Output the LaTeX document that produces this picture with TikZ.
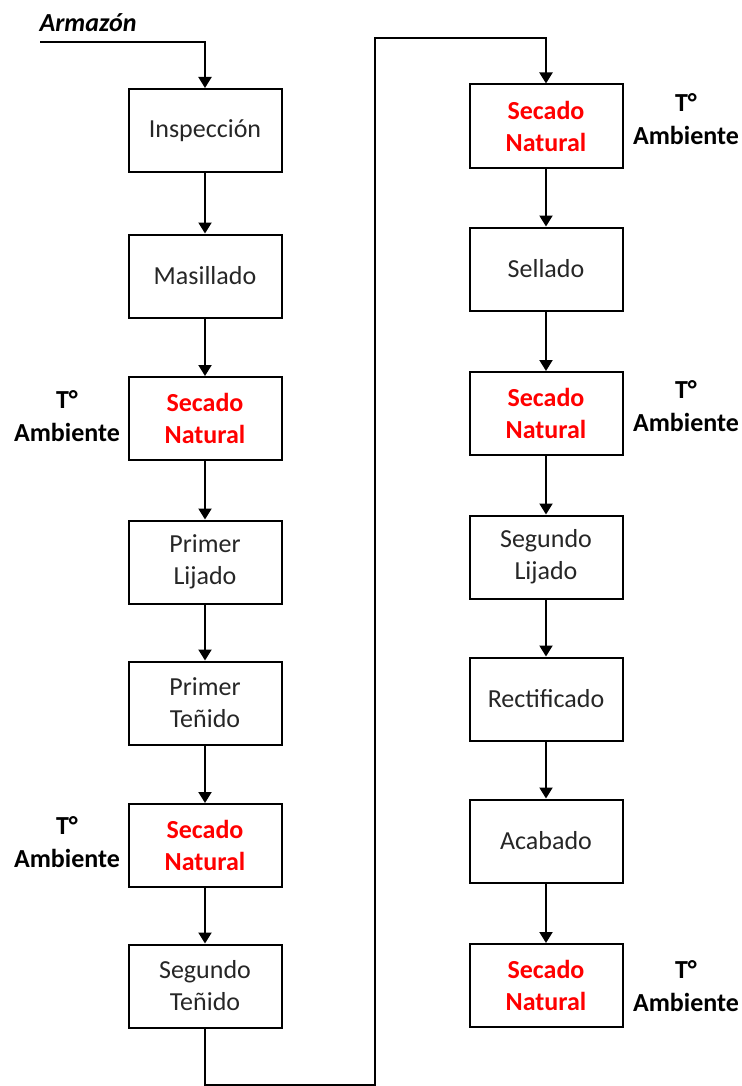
\documentclass[tikz,border=0pt]{standalone}
\usepackage{fontspec}
\setmainfont{Carlito}
\usetikzlibrary{arrows.meta,positioning}

\tikzset{
  proc/.style={draw,line width=1pt,minimum width=76.5pt,minimum height=41.5pt,align=center,
    text=black!85,font=\fontsize{13}{16}\selectfont},
  secado/.style={proc,text=red,font=\fontsize{13}{16}\selectfont\bfseries},
  temp/.style={align=center,font=\fontsize{13}{16.5}\selectfont\bfseries},
  flow/.style={line width=1pt,-{Triangle[width=6.5pt,length=5.5pt]}},
}

\begin{document}
\begin{tikzpicture}[x=0.5pt,y=-0.5pt]
  \useasboundingbox (0,0) rectangle (742,1086);

  % Left column
  \node[proc]   (insp) at (205,130.5) {Inspección};
  \node[proc]   (mas)  at (205,276)   {Masillado};
  \node[secado] (sa)   at (205,418.5) {Secado\\Natural};
  \node[proc]   (pl)   at (205,562)   {Primer\\Lijado};
  \node[proc]   (pt)   at (205,703)   {Primer\\Teñido};
  \node[secado] (sb)   at (205,845.5) {Secado\\Natural};
  \node[proc]   (st)   at (205,986)   {Segundo\\Teñido};

  % Right column
  \node[secado] (sc)   at (546,126)   {Secado\\Natural};
  \node[proc]   (sel)  at (546,269)   {Sellado};
  \node[secado] (sd)   at (546,413.5) {Secado\\Natural};
  \node[proc]   (sl)   at (546,557)   {Segundo\\Lijado};
  \node[proc]   (rec)  at (546,699)   {Rectificado};
  \node[proc]   (aca)  at (546,841)   {Acabado};
  \node[secado] (se)   at (546,985.5) {Secado\\Natural};

  % Temperature notes
  \node[temp] (ta) at (67,416)  {T°\\Ambiente};
  \node[temp] (tb) at (67,842)  {T°\\Ambiente};
  \node[temp] (tc) at (686,119) {T°\\Ambiente};
  \node[temp] (td) at (686,406) {T°\\Ambiente};
  \node[temp] (te) at (686,986) {T°\\Ambiente};

  % Input
  \node (arm) at (88,23) {\fontsize{13}{16}\selectfont\bfseries\itshape Armazón};
  \coordinate (in) at (40,42);
  \draw[flow] (in) -| (insp);

  % Flow, left column
  \draw[flow] (insp) -- (mas);
  \draw[flow] (mas) -- (sa);
  \draw[flow] (sa) -- (pl);
  \draw[flow] (pl) -- (pt);
  \draw[flow] (pt) -- (sb);
  \draw[flow] (sb) -- (st);

  % Link to the right column
  \coordinate (lowturn) at (375,1085);
  \coordinate (topturn) at (375,38);
  \draw[flow] (st) |- (lowturn) -- (topturn) -| (sc);

  % Flow, right column
  \draw[flow] (sc) -- (sel);
  \draw[flow] (sel) -- (sd);
  \draw[flow] (sd) -- (sl);
  \draw[flow] (sl) -- (rec);
  \draw[flow] (rec) -- (aca);
  \draw[flow] (aca) -- (se);
\end{tikzpicture}
\end{document}
